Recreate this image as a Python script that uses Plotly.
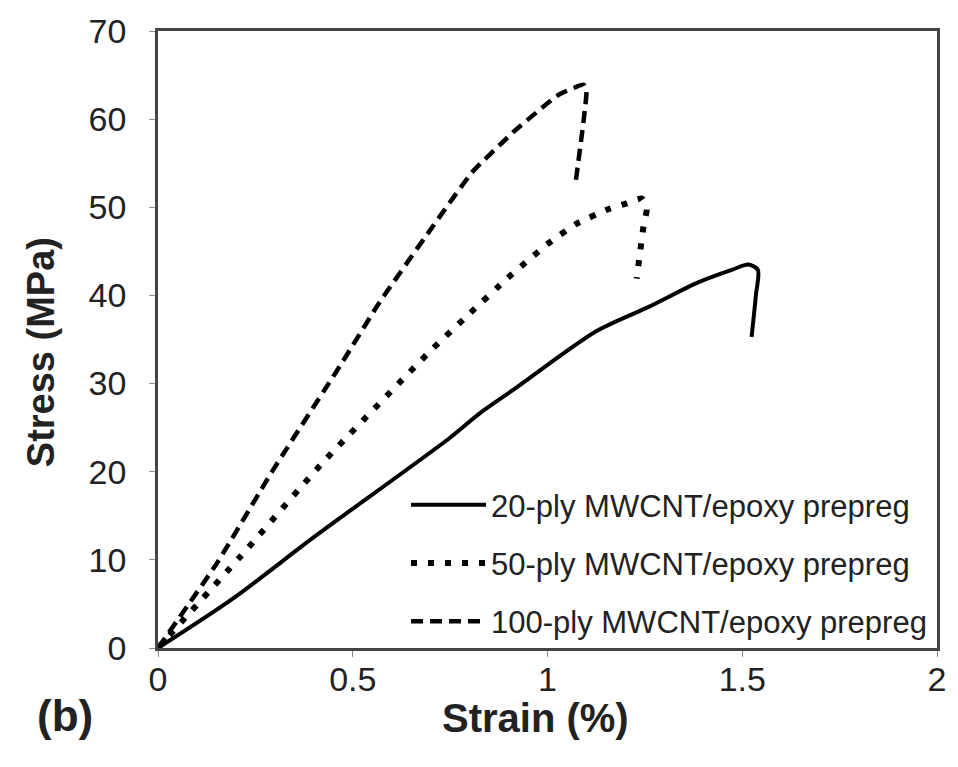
import plotly.graph_objects as go

# 20-ply MWCNT/epoxy prepreg
strain_20 = [0, 0.192, 0.407, 0.748, 0.825, 0.919, 1.124, 1.26, 1.388, 1.473, 1.516, 1.540, 1.535, 1.524]
stress_20 = [0, 5.6, 12.8, 23.8, 26.6, 29.5, 35.9, 38.7, 41.5, 42.9, 43.5, 42.9, 40.0, 35.3]
# 50-ply MWCNT/epoxy prepreg
strain_50 = [0, 0.21, 0.42, 0.697, 0.799, 0.896, 0.999, 1.073, 1.157, 1.20, 1.242, 1.255, 1.247, 1.229]
stress_50 = [0, 10.3, 20.9, 33.6, 37.9, 41.9, 45.8, 48.1, 49.8, 50.4, 51.0, 49.8, 48.0, 41.9]
# 100-ply MWCNT/epoxy prepreg
strain_100 = [0, 0.151, 0.294, 0.47, 0.57, 0.697, 0.807, 0.919, 1.03, 1.093, 1.100, 1.073]
stress_100 = [0, 9.6, 20.1, 32.2, 39.3, 47.3, 54.0, 58.8, 62.8, 63.9, 63.2, 53.1]

labels = ["20-ply MWCNT/epoxy prepreg", "50-ply MWCNT/epoxy prepreg", "100-ply MWCNT/epoxy prepreg"]
x_ticks = [0, 0.5, 1, 1.5, 2]
x_ticktext = ["0", "0.5", "1", "1.5", "2"]
x_title = "Strain (%)"
y_title = "Stress (MPa)"
panel = "(b)"

fig = go.Figure()
fig.add_trace(go.Scatter(x=strain_20, y=stress_20, mode="lines", name=labels[0], legendgroup="g1",
                         line=dict(color="black", width=4, dash="solid", shape="spline", smoothing=0.8)))
fig.add_trace(go.Scatter(x=strain_50, y=stress_50, mode="lines", name=labels[1], legendgroup="g2",
                         line=dict(color="black", width=6, dash="6px,11px", shape="spline", smoothing=0.4)))
fig.add_trace(go.Scatter(x=strain_100, y=stress_100, mode="lines", name=labels[2], legendgroup="g3",
                         line=dict(color="black", width=4.5, dash="12px,7px", shape="spline", smoothing=0.4)))

font = "Arial, Liberation Sans, sans-serif"
txt = "#222222"
fig.update_layout(
    width=958, height=767,
    margin=dict(l=158, r=19, t=28, b=119),
    plot_bgcolor="white", paper_bgcolor="white",
    font=dict(family=font, color=txt),
    showlegend=True,
    legend=dict(x=0.9936, y=0.0, xanchor="right", yanchor="bottom",
                bgcolor="rgba(0,0,0,0)", itemwidth=75,
                font=dict(size=31, family=font, color=txt),
                tracegroupgap=15),
    xaxis=dict(range=[0, 2], tickvals=x_ticks, ticktext=x_ticktext,
               showgrid=False, zeroline=False, showline=True, linecolor="#444444", linewidth=2.5,
               mirror=True, ticks="outside", ticklen=6, tickcolor="#888888", ticklabelstandoff=-7,
               tickfont=dict(size=34, family=font, color=txt)),
    yaxis=dict(range=[0, 70], dtick=10,
               showgrid=False, zeroline=False, showline=True, linecolor="#444444", linewidth=2.5,
               mirror=True, ticks="outside", ticklen=6, tickcolor="#888888", ticklabelstandoff=16,
               tickfont=dict(size=34, family=font, color=txt)),
)
fig.add_annotation(text="<b>" + x_title + "</b>", xref="paper", yref="paper", x=0.484, y=-0.113,
                   xanchor="center", yanchor="middle", showarrow=False,
                   font=dict(size=40, family=font, color=txt))
fig.add_annotation(text="<b>" + y_title + "</b>", xref="paper", yref="paper", x=-0.151, y=0.48,
                   xanchor="center", yanchor="middle", showarrow=False, textangle=-90,
                   font=dict(size=38, family=font, color=txt))
fig.add_annotation(text="<b>" + panel + "</b>", xref="paper", yref="paper", x=-0.158, y=-0.11,
                   xanchor="left", yanchor="middle", showarrow=False,
                   font=dict(size=44, family=font, color=txt))

fig.write_html("out.html")
